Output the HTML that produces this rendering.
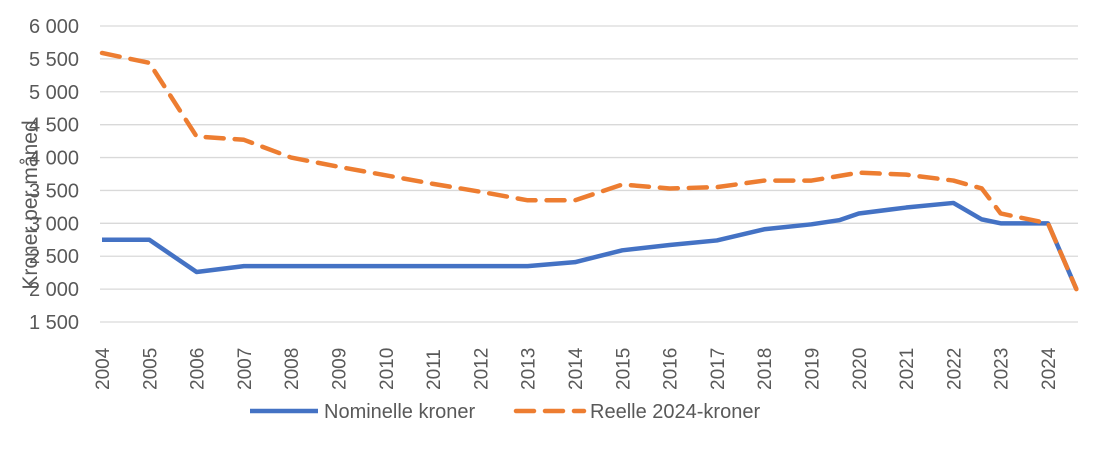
<!DOCTYPE html>
<html><head><meta charset="utf-8"><style>
body{margin:0;background:#fff;font-family:"Liberation Sans",sans-serif}
svg text{font-family:"Liberation Sans",sans-serif;fill:#595959}
</style></head><body>
<svg width="1120" height="448" id="c"></svg>
<script>
const yTicks=[1500,2000,2500,3000,3500,4000,4500,5000,5500,6000];
const yTickLabels=["1 500","2 000","2 500","3 000","3 500","4 000","4 500","5 000","5 500","6 000"];
const xYears=[2004,2005,2006,2007,2008,2009,2010,2011,2012,2013,2014,2015,2016,2017,2018,2019,2020,2021,2022,2023,2024];
const nomX=[2004,2005,2006,2007,2008,2009,2010,2011,2012,2013,2014,2015,2016,2017,2018,2019,2019.6,2020,2021,2022,2022.6,2023,2024,2024.6];
const nomV=[2750,2750,2260,2350,2350,2350,2350,2350,2350,2350,2410,2590,2670,2740,2910,2985,3050,3150,3240,3310,3060,3000,3000,2000];
const realX=[2004,2005,2006,2007,2008,2009,2010,2011,2012,2013,2014,2015,2016,2017,2018,2019,2020,2021,2022,2022.6,2023,2024,2024.6];
const realV=[5590,5440,4320,4270,4000,3860,3730,3600,3480,3350,3350,3590,3530,3550,3650,3650,3770,3740,3650,3530,3150,3000,2000];
const svg=document.getElementById('c');const NS='http://www.w3.org/2000/svg';
const X=v=>102+(v-2004)*47.3;const Y=v=>322-(v-1500)*(296/4500);
function mk(t,a,p){const e=document.createElementNS(NS,t);for(const k in a)e.setAttribute(k,a[k]);(p||svg).appendChild(e);return e;}
yTicks.forEach((t,i)=>{const g=mk('line',{x1:100,x2:1078,y1:Y(t),y2:Y(t),stroke:'#d9d9d9','stroke-width':1.3});


const l=mk('text',{x:79,y:Y(t)+7,'text-anchor':'end','font-size':20});l.textContent=yTickLabels[i];

});
xYears.forEach(yr=>{const l=mk('text',{transform:`translate(${X(yr)+7},390) rotate(-90)`,'font-size':19});l.textContent=yr;

});
const yt=mk('text',{transform:'translate(37,205) rotate(-90)','text-anchor':'middle','font-size':21});yt.textContent='Kroner per måned';


const pts=(xs,vs)=>xs.map((x,i)=>X(x)+','+Y(vs[i])).join(' ');
const n=mk('polyline',{points:pts(nomX,nomV),fill:'none',stroke:'#4472c4','stroke-width':4.5,'stroke-linejoin':'round'});


const r=mk('polyline',{points:pts(realX,realV),fill:'none',stroke:'#ed7d31','stroke-width':4.5,'stroke-dasharray':'18,11','stroke-linecap':'round','stroke-linejoin':'round'});


const l1=mk('line',{x1:250,x2:318,y1:411,y2:411,stroke:'#4472c4','stroke-width':4.5});


const t1=mk('text',{x:324,y:418,'font-size':20});t1.textContent='Nominelle kroner';


const l2=mk('line',{x1:516,x2:584,y1:411,y2:411,stroke:'#ed7d31','stroke-width':4.5,'stroke-dasharray':'18,11','stroke-linecap':'round'});


const t2=mk('text',{x:590,y:418,'font-size':20});t2.textContent='Reelle 2024-kroner';


</script></body></html>
